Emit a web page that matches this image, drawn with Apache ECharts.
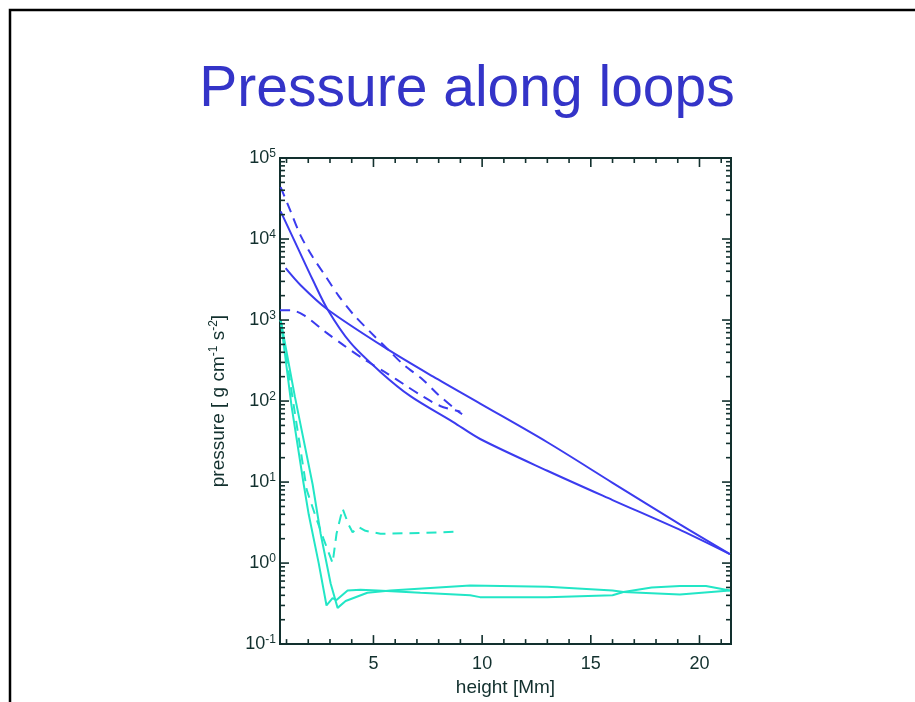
<!DOCTYPE html>
<html>
<head>
<meta charset="utf-8">
<title>Pressure along loops</title>
<script src="https://cdn.jsdelivr.net/npm/echarts@6/dist/echarts.min.js"></script>
<style>
  html, body { margin: 0; padding: 0; background: #ffffff; }
  #chart { width: 915px; height: 702px; }
</style>
</head>
<body>
<div id="chart"></div>
<script>
// Axis ranges: height in Mm, pressure on a log scale
const X_RANGE = [0.7, 21.45];
const Y_RANGE = [0.1, 1e5];

// Tick positions
const xMajorTicks = [5, 10, 15, 20];
const xMinorTicks = [1, 2, 3, 4, 6, 7, 8, 9, 11, 12, 13, 14, 16, 17, 18, 19, 21];
const yMajorTicks = [0.1, 1, 10, 100, 1000, 10000, 100000];
const yMinorTicks = [];
for (let k = -1; k <= 4; k++) {
  for (let m = 2; m <= 9; m++) yMinorTicks.push(Number((m * Math.pow(10, k)).toPrecision(3)));
}

// Hot loops (blue): [height Mm, pressure]
const hotSolidSteep = [
  [0.73, 21900], [1.5, 7940], [2.2, 3160], [2.89, 1350], [3.94, 525], [5.32, 229],
  [6.70, 115], [8.67, 55], [9.91, 34], [13.0, 13.8], [16.0, 6.0], [19.2, 2.5], [21.4, 1.29]
];
const hotSolidShallow = [
  [0.96, 4370], [1.65, 2690], [2.89, 1350], [5.64, 437], [7.75, 200], [9.91, 93],
  [13.0, 31], [16.0, 9.8], [19.1, 3.0], [21.4, 1.29]
];
const hotDashedSteep = [
  [0.73, 43600], [1.19, 21900], [1.65, 11000], [2.20, 6030], [2.80, 3470], [3.39, 2000],
  [4.08, 1170], [4.86, 710], [5.69, 427], [6.38, 282], [7.25, 186], [7.98, 120],
  [8.85, 76], [9.08, 69]
];
const hotDashedShallow = [
  [0.70, 1320], [1.19, 1320], [1.79, 1150], [2.80, 710], [3.62, 490], [4.54, 331],
  [5.69, 214], [6.38, 162], [7.25, 115], [8.07, 87], [9.0, 74]
];

// Cool loops (cyan): [height Mm, pressure]
const coolSolidA = [
  [0.73, 1000], [1.23, 87], [1.79, 9.4], [2.02, 4.0], [2.48, 1.0], [2.84, 0.30],
  [3.12, 0.37], [3.30, 0.35], [3.81, 0.46], [4.4, 0.47], [5.18, 0.46], [7.16, 0.43],
  [9.45, 0.40], [9.9, 0.38], [13.0, 0.38], [16.0, 0.40], [16.5, 0.44], [17.8, 0.50],
  [19.1, 0.52], [20.3, 0.52], [21.4, 0.46]
];
const coolSolidB = [
  [0.73, 1000], [1.38, 115], [2.2, 9.4], [2.57, 2.3], [3.03, 0.56], [3.35, 0.28],
  [3.72, 0.34], [4.72, 0.43], [5.78, 0.46], [9.45, 0.53], [13.0, 0.51], [16.0, 0.46],
  [16.5, 0.44], [19.1, 0.41], [21.4, 0.46]
];
const coolDashed = [
  [0.73, 1000], [1.30, 100], [1.93, 8.0], [2.38, 3.5], [2.70, 2.0], [3.12, 1.0],
  [3.30, 2.3], [3.58, 4.7], [3.85, 3.0], [4.04, 2.4], [4.31, 2.8], [4.63, 2.5],
  [5.32, 2.3], [7.16, 2.35], [9.0, 2.45]
];

const AXIS_COLOR = '#12302e';
const BLUE = '#3b3bef';
const CYAN = '#22e6c6';
const FONT = 'Liberation Sans, Arial, Helvetica, sans-serif';

// Inward tick marks on all four sides of the frame
function tickSeries(values, dir, len) {
  return {
    type: 'custom',
    silent: true,
    clip: false,
    z: 6,
    data: values.map(v => dir === 'y' ? [X_RANGE[0], v] : [v, Y_RANGE[0]]),
    encode: { x: 0, y: 1 },
    renderItem: (params, api) => {
      let segs;
      if (dir === 'y') {
        const v = api.value(1);
        const a = api.coord([X_RANGE[0], v]);
        const b = api.coord([X_RANGE[1], v]);
        segs = [[a[0], a[1], a[0] + len, a[1]], [b[0], b[1], b[0] - len, b[1]]];
      } else {
        const v = api.value(0);
        const a = api.coord([v, Y_RANGE[0]]);
        const b = api.coord([v, Y_RANGE[1]]);
        segs = [[a[0], a[1], a[0], a[1] - len], [b[0], b[1], b[0], b[1] + len]];
      }
      return {
        type: 'group',
        children: segs.map(s => ({
          type: 'line',
          shape: { x1: s[0], y1: s[1], x2: s[2], y2: s[3] },
          style: { stroke: AXIS_COLOR, lineWidth: 1.6 }
        }))
      };
    }
  };
}

function curve(name, data, color, dashed, smooth) {
  return {
    name: name,
    type: 'line',
    data: data,
    showSymbol: false,
    smooth: smooth,
    z: 3,
    lineStyle: { color: color, width: 2, type: dashed ? [10, 7] : 'solid' }
  };
}

const chart = echarts.init(document.getElementById('chart'), null, { renderer: 'canvas' });

chart.setOption({
  backgroundColor: '#ffffff',
  animation: false,
  graphic: [
    {
      type: 'rect',
      shape: { x: 10, y: 10, width: 940, height: 740 },
      style: { fill: 'none', stroke: '#000000', lineWidth: 2.5 },
      silent: true
    },
    {
      type: 'text',
      x: 467,
      y: 62,
      style: {
        text: 'Pressure along loops',
        fill: '#3434c8',
        font: 'normal 57px ' + FONT,
        textAlign: 'center',
        textVerticalAlign: 'top'
      },
      silent: true
    }
  ],
  grid: {
    left: 280, top: 158, width: 451, height: 494,
    show: true, borderColor: AXIS_COLOR, borderWidth: 2, backgroundColor: 'transparent'
  },
  xAxis: {
    type: 'value',
    min: X_RANGE[0],
    max: X_RANGE[1],
    axisLine: { show: false },
    axisTick: { show: false },
    splitLine: { show: false },
    axisLabel: {
      customValues: xMajorTicks,
      margin: 11,
      color: AXIS_COLOR,
      fontFamily: FONT,
      fontSize: 18
    },
    name: 'height [Mm]',
    nameLocation: 'middle',
    nameGap: 33,
    nameTextStyle: { color: AXIS_COLOR, fontFamily: FONT, fontSize: 19 }
  },
  yAxis: {
    type: 'log',
    logBase: 10,
    min: Y_RANGE[0],
    max: Y_RANGE[1],
    splitNumber: 6,
    axisLine: { show: false },
    axisTick: { show: false },
    splitLine: { show: false },
    axisLabel: {
      margin: 4,
      showMinLabel: true,
      showMaxLabel: true,
      formatter: v => '{b|10}{e|' + Math.round(Math.log10(v)) + '}',
      rich: {
        b: { color: AXIS_COLOR, fontFamily: FONT, fontSize: 18, lineHeight: 20 },
        e: { color: AXIS_COLOR, fontFamily: FONT, fontSize: 12, lineHeight: 12, verticalAlign: 'top' }
      }
    },
    name: '{n|pressure [ g cm}{s|-1}{n| s}{s|-2}{n|]}',
    nameLocation: 'middle',
    nameGap: 50,
    nameRotate: 90,
    nameTextStyle: {
      rich: {
        n: { color: AXIS_COLOR, fontFamily: FONT, fontSize: 19, lineHeight: 22 },
        s: { color: AXIS_COLOR, fontFamily: FONT, fontSize: 12, lineHeight: 12, verticalAlign: 'top' }
      }
    }
  },
  series: [
    curve('cool solid A', coolSolidA, CYAN, false, false),
    curve('cool solid B', coolSolidB, CYAN, false, false),
    curve('cool dashed', coolDashed, CYAN, true, false),
    curve('hot solid steep', hotSolidSteep, BLUE, false, 0.3),
    curve('hot solid shallow', hotSolidShallow, BLUE, false, 0.3),
    curve('hot dashed steep', hotDashedSteep, BLUE, true, 0.3),
    curve('hot dashed shallow', hotDashedShallow, BLUE, true, 0.3),
    tickSeries(xMajorTicks, 'x', 9),
    tickSeries(xMinorTicks, 'x', 5),
    tickSeries(yMajorTicks, 'y', 9),
    tickSeries(yMinorTicks, 'y', 5)
  ]
});
</script>
</body>
</html>
